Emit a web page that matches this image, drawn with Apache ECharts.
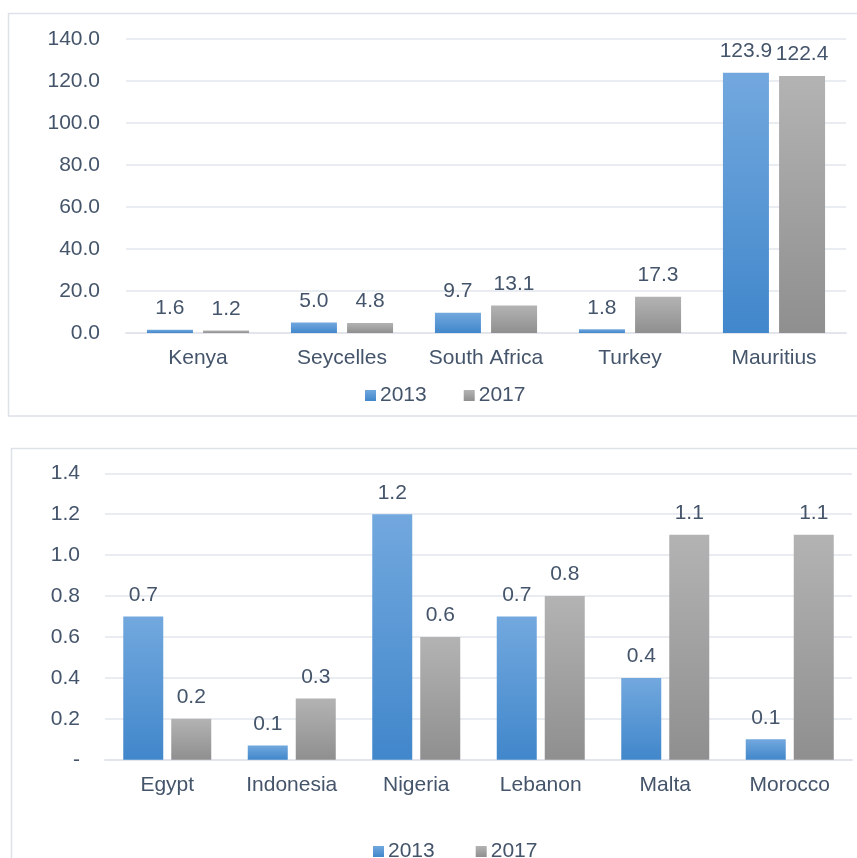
<!DOCTYPE html>
<html>
<head>
<meta charset="utf-8">
<style>
  html, body { margin: 0; padding: 0; background: #ffffff; }
  #chart { width: 857px; height: 858px; }
</style>
<script src="https://cdn.jsdelivr.net/npm/echarts@6/dist/echarts.min.js"></script>
</head>
<body>
<div id="chart"></div>
<script>
// ---- data ----
var topCategories = ['Kenya', 'Seycelles', 'South Africa', 'Turkey', 'Mauritius'];
var top2013 = [1.6, 5.0, 9.7, 1.8, 123.9];
var top2017 = [1.2, 4.8, 13.1, 17.3, 122.4];
var topTicks = { min: 0, max: 140, interval: 20 };

var bottomCategories = ['Egypt', 'Indonesia', 'Nigeria', 'Lebanon', 'Malta', 'Morocco'];
var bottom2013 = [0.7, 0.07, 1.2, 0.7, 0.4, 0.1];
var bottom2017 = [0.2, 0.3, 0.6, 0.8, 1.1, 1.1];
var bottomTicks = { min: 0, max: 1.4, interval: 0.2 };

var seriesNames = ['2013', '2017'];

// ---- styles ----
var textColor = '#44546A';
var fontFamily = '"Liberation Sans", Arial, sans-serif';
var fontSize = 21;
var gridColor = '#E2E6EC';

function grad(top, bottom) {
  return new echarts.graphic.LinearGradient(0, 0, 0, 1, [
    { offset: 0, color: top },
    { offset: 1, color: bottom }
  ]);
}
var blue = grad('#72A8DE', '#4187CB');
var grey = grad('#B3B3B3', '#8F8F8F');

function labelCfg() {
  return {
    show: true,
    position: 'top',
    distance: 11,
    color: textColor,
    fontFamily: fontFamily,
    fontSize: fontSize,
    formatter: function (p) { return Number(p.value).toFixed(1); }
  };
}

function yAxisCfg(gridIndex, ticks, fmt, margin) {
  return {
    type: 'value',
    gridIndex: gridIndex,
    min: ticks.min,
    max: ticks.max,
    interval: ticks.interval,
    axisLine: { show: false },
    axisTick: { show: false },
    splitLine: { show: true, lineStyle: { color: gridColor, width: 1.5 } },
    axisLabel: {
      color: textColor, fontFamily: fontFamily, fontSize: fontSize,
      margin: margin, formatter: fmt
    }
  };
}

function xAxisCfg(gridIndex, cats) {
  return {
    type: 'category',
    gridIndex: gridIndex,
    data: cats,
    axisLine: { show: true, lineStyle: { color: gridColor, width: 2 } },
    axisTick: { show: false },
    axisLabel: {
      color: textColor, fontFamily: fontFamily, fontSize: fontSize,
      margin: 15, interval: 0
    }
  };
}

var chart = echarts.init(document.getElementById('chart'), null, { renderer: 'canvas' });

var option = {
  backgroundColor: '#ffffff',
  animation: false,
  textStyle: { fontFamily: fontFamily },
  graphic: [
    {
      type: 'rect', silent: true, z: -10,
      shape: { x: 8.5, y: 13.5, width: 880, height: 402.5 },
      style: { fill: 'none', stroke: '#DDE2E8', lineWidth: 1.5 }
    },
    {
      type: 'rect', silent: true, z: -10,
      shape: { x: 11.5, y: 448.5, width: 880, height: 440 },
      style: { fill: 'none', stroke: '#DDE2E8', lineWidth: 1.5 }
    }
  ],
  grid: [
    { left: 126, right: 11, top: 39, height: 294 },
    { left: 105, right: 5, top: 473.3, height: 286.5 }
  ],
  legend: [
    {
      data: seriesNames,
      left: 360, top: 380,
      itemWidth: 11, itemHeight: 11, itemGap: 37,
      icon: 'rect',
      textStyle: { color: textColor, fontFamily: fontFamily, fontSize: fontSize, padding: [0, 0, 0, -1] }
    },
    {
      data: seriesNames,
      left: 368, top: 836,
      itemWidth: 11, itemHeight: 11, itemGap: 41,
      icon: 'rect',
      textStyle: { color: textColor, fontFamily: fontFamily, fontSize: fontSize, padding: [0, 0, 0, -1] }
    }
  ],
  xAxis: [
    xAxisCfg(0, topCategories),
    xAxisCfg(1, bottomCategories)
  ],
  yAxis: [
    yAxisCfg(0, topTicks, function (v) { return v.toFixed(1); }, 26),
    yAxisCfg(1, bottomTicks, function (v) { return v === 0 ? '-' : v.toFixed(1); }, 25)
  ],
  series: [
    {
      name: seriesNames[0], type: 'bar', xAxisIndex: 0, yAxisIndex: 0,
      data: top2013, barWidth: 46, barGap: '22%',
      itemStyle: { color: blue }, label: labelCfg()
    },
    {
      name: seriesNames[1], type: 'bar', xAxisIndex: 0, yAxisIndex: 0,
      data: top2017, barWidth: 46, barGap: '22%',
      itemStyle: { color: grey }, label: labelCfg()
    },
    {
      name: seriesNames[0], type: 'bar', xAxisIndex: 1, yAxisIndex: 1,
      data: bottom2013, barWidth: 40, barGap: '20%',
      itemStyle: { color: blue }, label: labelCfg()
    },
    {
      name: seriesNames[1], type: 'bar', xAxisIndex: 1, yAxisIndex: 1,
      data: bottom2017, barWidth: 40, barGap: '20%',
      itemStyle: { color: grey }, label: labelCfg()
    }
  ]
};

chart.setOption(option);
</script>
</body>
</html>
